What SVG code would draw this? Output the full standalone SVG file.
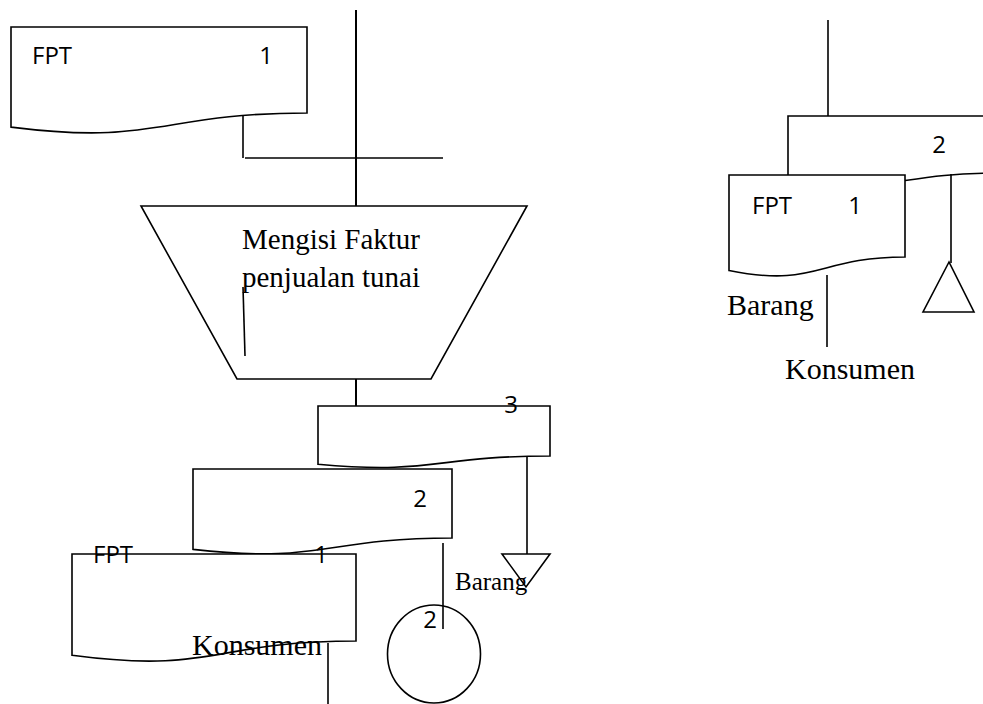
<svg xmlns="http://www.w3.org/2000/svg" width="983" height="704" viewBox="0 0 983 704">
<style>
.shape{fill:#fff;stroke:#000;stroke-width:1.6;stroke-linejoin:miter}
.line{fill:none;stroke:#000;stroke-width:1.6}
.vline{fill:none;stroke:#000;stroke-width:2}
.sans{font-family:"Open Sans","Liberation Sans",sans-serif;font-size:24px;fill:#000}
.serif{font-family:"Liberation Serif","Times New Roman",serif;fill:#000}
</style>
<rect width="983" height="704" fill="#fff"/>

<g id="doc-fpt-top">
<path class="shape" d="M11,27 H307 V113 C159,113 159,145.8 11,127.1 Z"/>
<text class="sans" x="32" y="64">FPT</text>
<text class="sans" x="266" y="64" text-anchor="middle">1</text>
</g>

<g id="process-mengisi">
<path class="shape" d="M141,206 H527 L431,379 H237 Z"/>
<text class="serif" font-size="29" x="242" y="249">Mengisi Faktur</text>
<text class="serif" font-size="29" x="242" y="287">penjualan tunai</text>
</g>

<g id="doc-3">
<path class="shape" d="M318,406 H550 V456 C434,456 434,475 318,464.2 Z"/>
<text class="sans" x="511" y="413" text-anchor="middle">3</text>
</g>

<g id="doc-2">
<path class="shape" d="M193,469 H452 V538 C322.5,538 322.5,564.2 193,549.4 Z"/>
<text class="sans" x="420" y="507" text-anchor="middle">2</text>
</g>

<g id="doc-fpt-bottom">
<path class="shape" d="M72,554 H356 V641 C214,641 214,674.2 72,655.3 Z"/>
<text class="sans" x="93" y="563">FPT</text>
<text class="sans" x="321" y="563" text-anchor="middle">1</text>
</g>

<g id="merge-barang">
<polygon class="shape" points="502,554 550,554 526,587"/>
</g>

<g id="connector-circle">
<ellipse class="shape" cx="434" cy="654" rx="46.5" ry="49"/>
<text class="sans" x="430" y="628" text-anchor="middle">2</text>
</g>

<g id="doc-2-right">
<path class="shape" d="M788,116 H1000 V173 C894,173 894,194.6 788,182.3 Z"/>
<text class="sans" x="939" y="153" text-anchor="middle">2</text>
</g>

<g id="doc-fpt-right">
<path class="shape" d="M729,175 H905 V257 C817,257 817,288.2 729,270.5 Z"/>
<text class="sans" x="752" y="214">FPT</text>
<text class="sans" x="855" y="214" text-anchor="middle">1</text>
</g>

<g id="archive-right">
<polygon class="shape" points="949,262 923,312 974,312"/>
</g>

<g id="connectors">
<line class="vline" x1="356" y1="10" x2="356" y2="206"/>
<line class="line" x1="243" y1="116" x2="243" y2="158"/>
<line class="line" x1="245" y1="158" x2="443" y2="158"/>
<line class="line" x1="243" y1="287" x2="245" y2="356"/>
<line class="vline" x1="356" y1="379" x2="356" y2="406"/>
<line class="line" x1="527" y1="456" x2="527" y2="554"/>
<line class="line" x1="443" y1="543" x2="443" y2="629"/>
<line class="line" x1="328" y1="643" x2="328" y2="704"/>
<line class="line" x1="828" y1="20" x2="828" y2="116"/>
<line class="line" x1="951" y1="174" x2="951" y2="263"/>
<line class="line" x1="827" y1="275" x2="827" y2="347"/>
</g>

<g id="labels">
<text class="serif" font-size="25" x="455" y="590">Barang</text>
<text class="serif" font-size="30" x="192" y="655">Konsumen</text>
<text class="serif" font-size="30" x="727" y="315">Barang</text>
<text class="serif" font-size="30" x="785" y="379">Konsumen</text>
</g>
</svg>
